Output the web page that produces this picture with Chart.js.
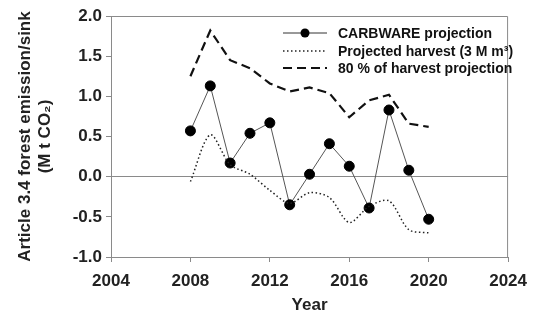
<!DOCTYPE html>
<html><head><meta charset="utf-8">
<script src="https://cdn.jsdelivr.net/npm/chart.js@4"></script>
<style>html,body{margin:0;padding:0;background:#fff;}#wrap{width:536px;height:316px;}</style>
</head><body><div id="wrap"><canvas id="c"></canvas></div>
<script>
const years = [2008,2009,2010,2011,2012,2013,2014,2015,2016,2017,2018,2019,2020];
const carbware = [0.57,1.13,0.17,0.54,0.67,-0.35,0.03,0.41,0.13,-0.39,0.83,0.08,-0.53];
const harvest = [-0.06,0.52,0.15,0.03,-0.17,-0.33,-0.20,-0.26,-0.57,-0.37,-0.30,-0.66,-0.70];
const harvest80 = [1.25,1.82,1.45,1.35,1.16,1.06,1.11,1.04,0.74,0.95,1.02,0.66,0.62];
const seriesNames = ['CARBWARE projection','Projected harvest (3 M m³)','80 % of harvest projection'];
const xTicks = [2004,2008,2012,2016,2020,2024];
const yTicks = [-1.0,-0.5,0.0,0.5,1.0,1.5,2.0];
const yTitle = ['Article 3.4 forest emission/sink','(M t CO\u2082)'];
const xTitle = 'Year';

const FONT = '"Liberation Sans", Arial, sans-serif';
const GRAY = '#8a8a8a';
const toPts = v => years.map((y,i)=>({x:y,y:v[i]}));

const legendPlugin = {
  id:'customLegend',
  afterDraw(chart){
    const c = chart.ctx, a = chart.chartArea;
    c.save();
    c.strokeStyle = GRAY; c.lineWidth = 1;
    c.beginPath(); c.moveTo(a.left, a.top+0.5); c.lineTo(a.right-0.5, a.top+0.5); c.lineTo(a.right-0.5, a.bottom); c.stroke();
    const x0 = 283, x1 = 327, tx = 338, rows = [33,51,68];
    c.font = 'bold 14px ' + FONT; c.textBaseline = 'middle';
    c.strokeStyle = '#333'; c.lineWidth = 1; c.setLineDash([]);
    c.beginPath(); c.moveTo(x0, rows[0]); c.lineTo(x1, rows[0]); c.stroke();
    c.fillStyle = '#000'; c.beginPath(); c.arc((x0+x1)/2, rows[0], 4.5, 0, Math.PI*2); c.fill();
    c.strokeStyle = '#222'; c.lineWidth = 1.5; c.setLineDash([1.5,2.5]);
    c.beginPath(); c.moveTo(x0, rows[1]); c.lineTo(x1, rows[1]); c.stroke();
    c.strokeStyle = '#111'; c.lineWidth = 2.2; c.setLineDash([9,5]);
    c.beginPath(); c.moveTo(x0, rows[2]); c.lineTo(x1, rows[2]); c.stroke();
    c.setLineDash([]);
    c.fillStyle = '#111';
    seriesNames.forEach((n,i)=>c.fillText(n, tx, rows[i]+1));
    c.restore();
  }
};

new Chart(document.getElementById('c'), {
  type:'line',
  data:{datasets:[
    {label:seriesNames[2], data:toPts(harvest80), borderColor:'#111', borderWidth:2.2, borderDash:[9,5], pointRadius:0, tension:0, fill:false},
    {label:seriesNames[1], data:toPts(harvest), borderColor:'#222', borderWidth:1.5, borderDash:[1.5,2.5], pointRadius:0, tension:0.3, fill:false},
    {label:seriesNames[0], data:toPts(carbware), borderColor:'#555', borderWidth:1, pointRadius:5, pointBackgroundColor:'#000', pointBorderColor:'#000', tension:0, fill:false}
  ]},
  options:{
    responsive:true, maintainAspectRatio:false, animation:false,
    layout:{padding:{left:0,top:16,right:24,bottom:0}},
    plugins:{legend:{display:false}, tooltip:{enabled:false}},
    scales:{
      x:{type:'linear', min:2004, max:2024,
        afterBuildTicks(s){ s.ticks = xTicks.map(v=>({value:v})); },
        afterFit(s){ s.height = 59; },
        grid:{drawOnChartArea:false, tickLength:5, color:GRAY},
        border:{color:GRAY, width:1},
        ticks:{font:{family:FONT, size:17, weight:'bold'}, color:'#222', padding:9, maxRotation:0, callback:v=>String(v)},
        title:{display:true, text:xTitle, font:{family:FONT, size:17, weight:'bold'}, color:'#222', padding:{top:12,bottom:0}}
      },
      y:{min:-1, max:2,
        afterBuildTicks(s){ s.ticks = yTicks.map(v=>({value:v})); },
        afterFit(s){ s.width = 111; },
        grid:{drawOnChartArea:true, tickLength:5, color:ctx=>(ctx.tick && ctx.tick.value===0)?GRAY:'rgba(0,0,0,0)', tickColor:GRAY},
        border:{color:GRAY, width:1},
        ticks:{font:{family:FONT, size:17, weight:'bold'}, color:'#222', padding:4, callback:v=>Number(v).toFixed(1)},
        title:{display:true, text:yTitle, font:{family:FONT, size:17, weight:'bold', lineHeight:1.2}, color:'#222', padding:{top:15,bottom:4}}
      }
    }
  },
  plugins:[legendPlugin]
});
</script></body></html>
